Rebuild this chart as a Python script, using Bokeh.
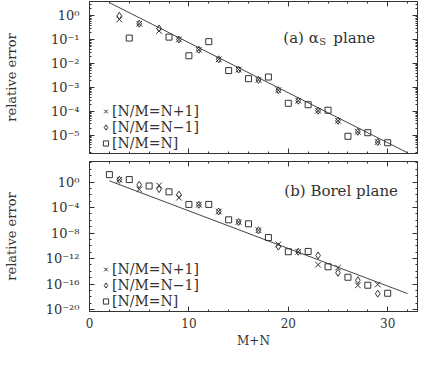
from bokeh.plotting import figure
from bokeh.layouts import column
from bokeh.models import (Range1d, FixedTicker, LinearAxis, LogAxis, Legend, LegendItem,
                          Label, CustomJSTickFormatter)
from bokeh.embed import file_html
from bokeh.resources import INLINE

FONT = "DejaVu Serif"
INK = "#333333"

# ---------------- data (log10 of relative error) ----------------
# panel (a): alpha_s plane
a_odd_x = [3, 5, 7, 9, 11, 13, 15, 17, 19, 21, 23, 25, 27, 29]
a_np1_log = [-0.15, -0.33, -0.63, -0.99, -1.42, -1.82, -2.25, -2.68, -3.11, -3.55, -3.97, -4.39, -4.85, -5.28]
a_nm1_log = [0.00, -0.33, -0.53, -0.99, -1.42, -1.82, -2.25, -2.68, -3.11, -3.55, -3.97, -4.39, -4.85, -5.28]
a_even_x = [4, 8, 10, 12, 14, 16, 18, 20, 22, 24, 26, 28, 30]
a_nn_log = [-0.93, -0.89, -1.67, -1.08, -2.29, -2.63, -2.56, -3.66, -3.72, -3.95, -5.04, -4.89, -5.31]
a_fit_x = [2, 32]
a_fit_log = [0.55, -5.73]

# panel (b): Borel plane
b_odd_x = [3, 5, 7, 9, 11, 13, 15, 17, 19, 21, 23, 25, 27, 29]
b_np1_log = [0.36, -1.16, -0.53, -2.46, -3.56, -4.62, -6.26, -7.56, -9.78, -10.93, -12.96, -13.42, -16.2, -16.06]
b_nm1_log = [0.36, -0.43, -1.11, -1.98, -3.56, -4.62, -6.26, -7.56, -10.12, -10.93, -11.51, -14.23, -15.4, -17.5]
b_even_x = [2, 4, 6, 8, 10, 12, 14, 16, 18, 20, 22, 24, 26, 28, 30]
b_nn_log = [1.16, 0.39, -0.62, -1.54, -3.51, -3.51, -5.92, -6.55, -8.71, -10.93, -10.88, -13.29, -14.93, -16.18, -17.44]
b_fit_x = [2, 32]
b_fit_log = [0.19, -17.49]

# ticks
x_ticks = [0, 10, 20, 30]
x_tick_labels = ["0", "10", "20", "30"]
x_minor = [2, 4, 6, 8, 12, 14, 16, 18, 22, 24, 26, 28, 32]
a_y_exp = [0, -1, -2, -3, -4, -5]
a_y_labels = ["10⁰", "10⁻¹", "10⁻²", "10⁻³", "10⁻⁴", "10⁻⁵"]
b_y_exp = [0, -4, -8, -12, -16, -20]
b_y_labels = ["10⁰", "10⁻⁴", "10⁻⁸", "10⁻¹²", "10⁻¹⁶", "10⁻²⁰"]

legend_labels = ["[N/M=N+1]", "[N/M=N−1]", "[N/M=N]"]

a_range_log = (-5.76, 0.6)
b_range_log = (-20.3, 3.22)


def p10(v):
    return [10.0 ** t for t in v]


FMT_CODE = """
let best = -1, d = Infinity;
for (let i = 0; i < tvals.length; i++) {
  const e = islog ? Math.abs(Math.log10(tvals[i]) - Math.log10(tick)) : Math.abs(tvals[i] - tick);
  if (e < d) { d = e; best = i; }
}
return (best >= 0 && d < 1e-6) ? labs[best] : "";
"""


def fmt(tvals, labs, islog):
    return CustomJSTickFormatter(args=dict(tvals=tvals, labs=labs, islog=islog), code=FMT_CODE)


def style_axis(ax, show_labels):
    ax.axis_line_color = INK
    ax.major_tick_line_color = INK
    ax.minor_tick_line_color = INK
    ax.major_tick_in = 5
    ax.major_tick_out = 0
    ax.minor_tick_in = 2
    ax.minor_tick_out = 0
    ax.major_label_text_font = FONT
    ax.axis_label_text_font = FONT
    ax.axis_label_text_font_style = "normal"
    ax.axis_label_text_color = INK
    ax.major_label_text_color = INK
    if not show_labels:
        ax.formatter = CustomJSTickFormatter(code="return '';")
        ax.major_label_text_font_size = "0px"
        ax.major_label_standoff = 0


xr = Range1d(0, 33)


def make_panel(height, yr_log, y_exp, y_labels, y_minor, bottom_labels, mbt, mbb, ylab_standoff):
    yticks = [10.0 ** e for e in y_exp]
    yt = FixedTicker(ticks=yticks, minor_ticks=y_minor)
    xt = FixedTicker(ticks=x_ticks, minor_ticks=x_minor)
    p = figure(width=420, height=height, x_range=xr,
               y_range=Range1d(10 ** yr_log[0], 10 ** yr_log[1]), y_axis_type="log",
               output_backend="svg", toolbar_location=None,
               min_border_left=82, min_border_right=3, min_border_top=mbt, min_border_bottom=mbb)
    p.grid.visible = False
    p.outline_line_color = INK
    p.outline_line_width = 1
    p.background_fill_color = "white"
    p.border_fill_color = "white"

    ly = p.left[0]
    ly.ticker = yt
    style_axis(ly, True)
    ly.formatter = fmt(yticks, y_labels, True)
    ly.major_label_text_font_size = "13px"
    ly.major_label_standoff = 10
    ly.axis_label = "relative error"
    ly.axis_label_text_font_size = "13px"
    ly.axis_label_standoff = ylab_standoff

    bx = p.below[0]
    bx.ticker = xt
    style_axis(bx, bottom_labels)
    if bottom_labels:
        bx.formatter = fmt(x_ticks, x_tick_labels, False)
        bx.major_label_text_font_size = "12px"
        bx.major_label_standoff = 6
        bx.axis_label = "M+N"
        bx.axis_label_text_font_size = "12px"
        bx.axis_label_standoff = 3

    ax_top = LinearAxis(ticker=xt)
    style_axis(ax_top, False)
    p.add_layout(ax_top, "above")
    ax_right = LogAxis(ticker=yt)
    style_axis(ax_right, False)
    p.add_layout(ax_right, "right")
    return p


def add_series(p, ox, np1, nm1, ex, nn, fx, flog):
    p.line(fx, p10(flog), line_color="#444444", line_width=1)
    r1 = p.scatter(ox, p10(np1), marker="x", size=8, line_color=INK, line_width=1)
    r2 = p.scatter(ox, p10(nm1), marker="diamond", size=7, line_color=INK, line_width=1, fill_color=None)
    r3 = p.scatter(ex, p10(nn), marker="square", size=6, line_color=INK, line_width=1, fill_color=None)
    leg = Legend(items=[LegendItem(label=legend_labels[0], renderers=[r1]),
                        LegendItem(label=legend_labels[1], renderers=[r2]),
                        LegendItem(label=legend_labels[2], renderers=[r3])],
                 location=(10, 2), orientation="vertical",
                 label_text_font=FONT, label_text_font_size="14px", label_text_color=INK,
                 glyph_width=13, glyph_height=16, label_standoff=0, spacing=-5,
                 padding=0, margin=0, background_fill_alpha=0, border_line_alpha=0,
                 label_height=14)
    p.add_layout(leg, "center")


def add_title(p, x, y_log, parts):
    for txt, dx, dy, fs in parts:
        p.add_layout(Label(x=x, y=10 ** y_log, x_offset=dx, y_offset=dy, text=txt,
                           text_font=FONT, text_font_size=fs, text_color=INK,
                           text_baseline="alphabetic"))


a_minor = [k * 10.0 ** e for e in range(-6, 1) for k in range(2, 10)]
b_minor = [10.0 ** e for e in range(-21, 4)]

top = make_panel(157, a_range_log, a_y_exp, a_y_labels, a_minor, False, 1, 4, 29)
add_series(top, a_odd_x, a_np1_log, a_nm1_log, a_even_x, a_nn_log, a_fit_x, a_fit_log)
add_title(top, 19.5, -0.925, [("(a) α", 0, 0, "15px"), ("S", 36, -4, "10px"), ("plane", 50, 0, "15px")])

bot = make_panel(197, b_range_log, b_y_exp, b_y_labels, b_minor, True, 4, 43, 24)
add_series(bot, b_odd_x, b_np1_log, b_nm1_log, b_even_x, b_nn_log, b_fit_x, b_fit_log)
add_title(bot, 19.6, -1.34, [("(b) Borel plane", 0, 0, "15px")])

layout = column(top, bot, spacing=0)
open("out.html", "w").write(file_html(layout, INLINE))
